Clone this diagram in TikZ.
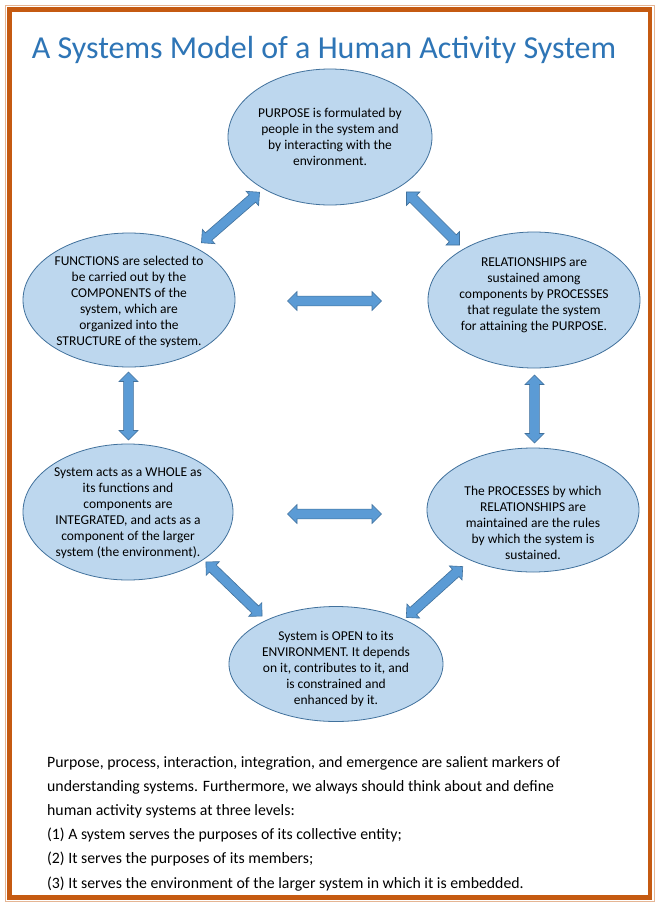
\documentclass[tikz,border=0pt]{standalone}
\usepackage{fontspec}
\setmainfont{Carlito}
\usetikzlibrary{shapes.geometric,shapes.arrows,calc}
\definecolor{ellfill}{HTML}{BDD7EE}
\definecolor{elldraw}{HTML}{41719C}
\definecolor{arrfill}{HTML}{5B9BD5}
\definecolor{titleblue}{HTML}{2E75B6}
\definecolor{frameor}{HTML}{C55A11}
\begin{document}
\begin{tikzpicture}[x=1pt,y=-1pt,
  ell/.style={ellipse, draw=elldraw, fill=ellfill, line width=0.8pt, inner sep=0pt},
  txt/.style={align=center, font=\fontsize{13.5}{16}\selectfont, inner sep=0pt},
  darr/.style={double arrow, draw=elldraw, fill=arrfill, line width=0.6pt,
    double arrow head extend=4.5pt, minimum width=19pt, inner sep=4.5pt},
  ttl/.style={font=\fontsize{32}{36}\selectfont, inner sep=0pt},
]
\useasboundingbox (0,0) rectangle (659,907);
\fill[white] (0,0) rectangle (659,907);
\draw[frameor!45, line width=1pt] (5.5,5.5) rectangle (654,901.5);
\draw[frameor, line width=4.5pt] (9.5,9.5) rectangle (650,897.5);

\node[ttl, text=titleblue] (title) at (324,50) {A Systems Model of a Human Activity System};

\node[ell, minimum width=204pt, minimum height=136pt] (pur) at (330,137) {};
\node[ell, minimum width=212pt, minimum height=134pt] (fun) at (129,300) {};
\node[ell, minimum width=212pt, minimum height=136pt] (rel) at (534,300) {};
\node[ell, minimum width=210pt, minimum height=136pt] (who) at (128,512) {};
\node[ell, minimum width=212pt, minimum height=124pt] (pro) at (533,510) {};
\node[ell, minimum width=214pt, minimum height=115pt] (ope) at (336,664) {};

\node[txt] (purT) at ($(pur)+(0,0)$) {PURPOSE is formulated by\\people in the system and\\by interacting with the\\environment.};
\node[txt] (funT) at ($(fun)+(0,2)$) {FUNCTIONS are selected to\\be carried out by the\\COMPONENTS of the\\system, which are\\organized into the\\STRUCTURE of the system.};
\node[txt] (relT) at ($(rel)+(0,-5)$) {RELATIONSHIPS are\\sustained among\\components by PROCESSES\\that regulate the system\\for attaining the PURPOSE.};
\node[txt] (whoT) at ($(who)+(0,1)$) {System acts as a WHOLE as\\its functions and\\components are\\INTEGRATED, and acts as a\\component of the larger\\system (the environment).};
\node[txt] (proT) at ($(pro)+(0,13)$) {The PROCESSES by which\\RELATIONSHIPS are\\maintained are the rules\\by which the system is\\sustained.};
\node[txt] (opeT) at ($(ope)+(0,5)$) {System is OPEN to its\\ENVIRONMENT. It depends\\on it, contributes to it, and\\is constrained and\\enhanced by it.};

\node[darr, minimum height=77pt, rotate=41] (a1) at ($(fun)!0.5!(pur)+(1,-1)$) {};
\node[darr, minimum height=75pt, rotate=-45] (a2) at ($(pur)!0.5!(rel)+(1,0)$) {};
\node[darr, minimum height=68pt, rotate=90] (a3) at ($(fun)!0.5!(who)$) {};
\node[darr, minimum height=68pt, rotate=90] (a4) at ($(rel)!0.5!(pro)+(1,4)$) {};
\node[darr, minimum height=94pt] (a5) at ($(fun)!0.5!(rel)+(3,1)$) {};
\node[darr, minimum height=94pt] (a6) at ($(who)!0.5!(pro)+(4,3)$) {};
\node[darr, minimum height=78pt, rotate=-44] (a7) at ($(who)!0.5!(ope)+(2,1)$) {};
\node[darr, minimum height=76pt, rotate=42] (a8) at ($(pro)!0.5!(ope)+(0,5)$) {};

\node[anchor=north west, inner sep=0pt, align=left, font=\fontsize{15.8}{24.2}\selectfont] (para) at (47,756)
{Purpose, process, interaction, integration, and emergence are salient markers of\\
understanding systems. Furthermore, we always should think about and define\\
human activity systems at three levels:\\
(1) A system serves the purposes of its collective entity;\\
(2) It serves the purposes of its members;\\
(3) It serves the environment of the larger system in which it is embedded.};
\end{tikzpicture}
\end{document}
